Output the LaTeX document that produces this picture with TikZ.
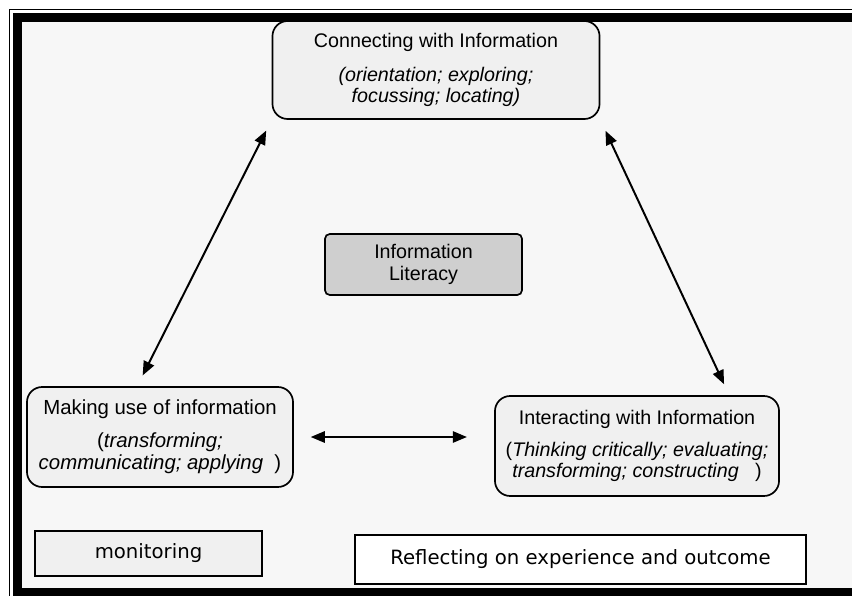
\documentclass[tikz,border=0pt]{standalone}
\usepackage{fontspec}
\setmainfont{Liberation Sans}
\newfontfamily\verdanafont{DejaVu Sans}
\usetikzlibrary{arrows.meta,calc}

\tikzset{
  stage/.style={draw=black, line width=1.2pt, rounded corners=0.38cm, fill=gray!12,
    align=center, inner sep=0pt, font=\fontsize{14}{15}\selectfont},
  core/.style={draw=black, line width=1.2pt, rounded corners=0.12cm, fill=gray!38,
    align=center, inner sep=0pt, font=\fontsize{14}{15.5}\selectfont},
  plainbox/.style={draw=black, line width=1.8pt, inner sep=0pt,
    font=\verdanafont\fontsize{14}{15}\selectfont},
  link/.style={<->, >={Triangle[length=10pt,width=8pt]},
    line width=1.4pt, shorten <=0.3cm, shorten >=0.3cm}
}

\begin{document}
\begin{tikzpicture}[x=0.025cm,y=-0.025cm]
    \useasboundingbox (0,0) rectangle (852,596);
    % frame
    \fill[white] (0,0) rectangle (852,596);
    \fill[gray!6] (22,22) rectangle (852,588);
    \draw[line width=0.7pt] (9,596) -- (9,9) -- (852,9);
    \fill[black] (13,13) rectangle (852,22);
    \fill[black] (13,13) rectangle (22,596);
    \fill[black] (13,588) rectangle (852,596);

    \node (conn)[stage, minimum width=8.175cm, minimum height=2.45cm] at (436,70)
      {Connecting with Information\\[9pt]
       \itshape (orientation; exploring;\\ \itshape focussing; locating)};

    \node (lit)[core, minimum width=4.925cm, minimum height=1.525cm] at (423.5,264.5)
      {Information\\ Literacy};

    \node (use)[stage, minimum width=6.65cm, minimum height=2.5cm,
      font=\fontsize{14.5}{16}\selectfont] at (160,437)
      {Making use of information\\[7pt]
       (\textit{transforming;}\\ \textit{communicating; applying}~~)};

    \node (int)[stage, minimum width=7.1cm, minimum height=2.5cm] at (637,446)
      {Interacting with Information\\[8pt]
       (\textit{Thinking critically; evaluating;}\\
       \textit{transforming; constructing}~~~)};

    \node (mon)[plainbox, fill=gray!12, minimum width=5.675cm, minimum height=1.125cm] at (148.5,553.5)
      {monitoring};
    \node (refl)[plainbox, fill=white, minimum width=11.275cm, minimum height=1.225cm] at (580.5,559.5)
      {Reflecting on experience and outcome};

    \draw[link] (conn.south west) -- ($(use.north west)!.83!(use.north)$);
    \draw[link] (conn.south east) -- ($(int.north)!.645!(int.north east)$);
    \draw[link, shorten <=0.42cm, shorten >=0.68cm] (use.east) -- (int.west |- use.east);
\end{tikzpicture}
\end{document}
